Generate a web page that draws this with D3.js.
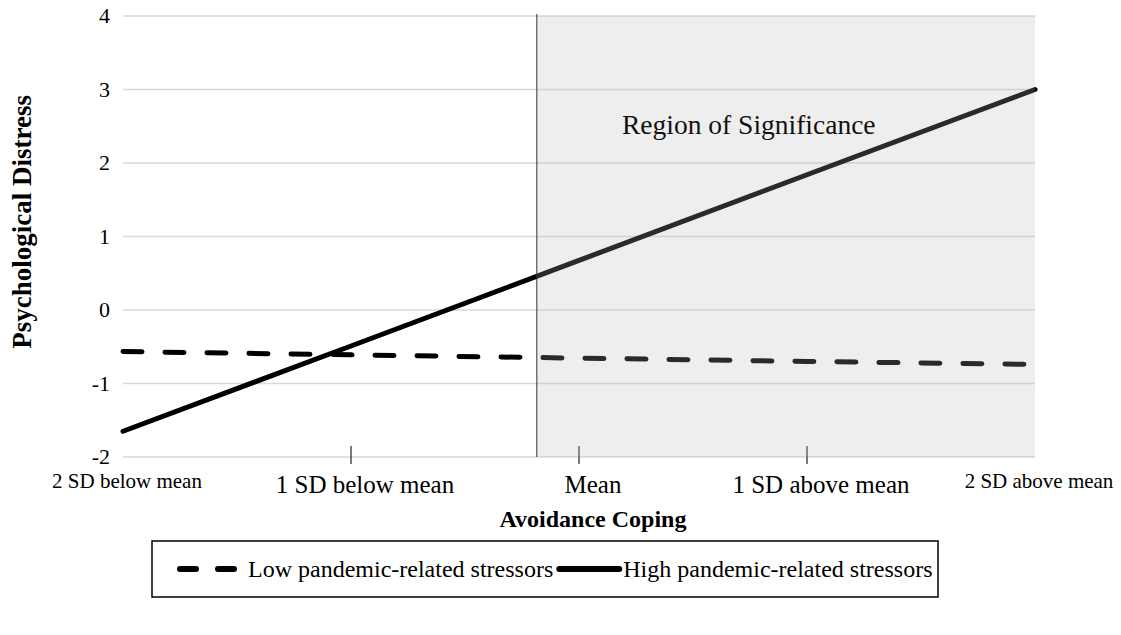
<!DOCTYPE html>
<html>
<head>
<meta charset="utf-8">
<script src="https://cdn.jsdelivr.net/npm/d3@7"></script>
<style>
  html, body { margin: 0; padding: 0; background: #fff; }
</style>
</head>
<body>
<svg id="chart" width="1121" height="635"></svg>
<script>
// Moderator levels of avoidance coping (in SD units from the mean)
const sdLevels = [-2, -1, 0, 1, 2];
const categoryLabels = ["2 SD below mean", "1 SD below mean", "Mean", "1 SD above mean", "2 SD above mean"];

// Predicted psychological distress for each stressor group
const lowStressors = [-0.565, -0.61, -0.655, -0.7, -0.74];
const highStressors = [-1.65, -0.49, 0.675, 1.84, 3.0];

const seriesNames = ["Low pandemic-related stressors", "High pandemic-related stressors"];
const yTicks = [-2, -1, 0, 1, 2, 3, 4];

// Johnson-Neyman boundary (SD units) where the effect becomes significant
const significanceStart = -0.185;
const regionLabel = "Region of Significance";

const FONT = '"Liberation Serif"';
const svg = d3.select("#chart");
const margin = { left: 123, right: 86, top: 16, bottom: 178 };
const W = 1121, H = 635;

const x = d3.scaleLinear().domain([-2, 2]).range([margin.left, W - margin.right]);
const y = d3.scaleLinear().domain([-2, 4]).range([H - margin.bottom, margin.top]);

// horizontal gridlines
svg.append("g")
  .selectAll("line")
  .data(yTicks)
  .join("line")
  .attr("x1", x(-2)).attr("x2", x(2))
  .attr("y1", d => y(d)).attr("y2", d => y(d))
  .attr("stroke", "#d9d9d9").attr("stroke-width", 1.3);

// y tick labels
svg.append("g")
  .selectAll("text")
  .data(yTicks)
  .join("text")
  .attr("x", 110).attr("y", d => y(d))
  .attr("dy", "0.32em")
  .attr("text-anchor", "end")
  .style("font-family", FONT)
  .style("font-size", "22px")
  .text(d => d);

// x tick marks on interior categories
svg.append("g")
  .selectAll("line")
  .data(sdLevels.slice(1, -1))
  .join("line")
  .attr("x1", d => x(d)).attr("x2", d => x(d))
  .attr("y1", y(-2) - 11).attr("y2", y(-2) + 7)
  .attr("stroke", "#222").attr("stroke-width", 1.2);

// x category labels (end labels set smaller and higher)
const isEnd = i => i === 0 || i === sdLevels.length - 1;
svg.append("g")
  .selectAll("text")
  .data(sdLevels)
  .join("text")
  .attr("x", (d, i) => x(d) + (isEnd(i) ? 4 : 14))
  .attr("y", (d, i) => isEnd(i) ? 488 : 493)
  .attr("text-anchor", "middle")
  .style("font-family", FONT)
  .style("font-size", (d, i) => isEnd(i) ? "21px" : "25px")
  .text((d, i) => categoryLabels[i]);

// series lines
const line = d3.line().x((d, i) => x(sdLevels[i])).y(d => y(d));

svg.append("path")
  .datum(lowStressors)
  .attr("d", line)
  .attr("fill", "none")
  .attr("stroke", "#000")
  .attr("stroke-width", 5)
  .attr("stroke-linecap", "round")
  .attr("stroke-dasharray", "19,23");

svg.append("path")
  .datum(highStressors)
  .attr("d", line)
  .attr("fill", "none")
  .attr("stroke", "#000")
  .attr("stroke-width", 5)
  .attr("stroke-linecap", "round");

// translucent region of significance over the lines
svg.append("rect")
  .attr("x", x(significanceStart))
  .attr("y", y(4))
  .attr("width", x(2) - x(significanceStart))
  .attr("height", y(-2) - y(4))
  .attr("fill", "rgb(183,183,183)")
  .attr("fill-opacity", 0.23);

svg.append("line")
  .attr("x1", x(significanceStart)).attr("x2", x(significanceStart))
  .attr("y1", y(4) - 2).attr("y2", y(-2))
  .attr("stroke", "#333").attr("stroke-width", 1);

svg.append("text")
  .attr("x", 622).attr("y", 134)
  .style("font-family", FONT)
  .style("font-size", "27.5px")
  .attr("fill", "#111")
  .text(regionLabel);

// axis titles
svg.append("text")
  .attr("x", x(0) + 14).attr("y", 527)
  .attr("text-anchor", "middle")
  .style("font-family", FONT)
  .style("font-size", "24px").style("font-weight", "bold")
  .text("Avoidance Coping");

svg.append("text")
  .attr("transform", `translate(31,${y(1.2)}) rotate(-90)`)
  .attr("text-anchor", "middle")
  .style("font-family", FONT)
  .style("font-size", "27px").style("font-weight", "bold")
  .text("Psychological Distress");

// legend
const legend = svg.append("g");
legend.append("rect")
  .attr("x", 152).attr("y", 541)
  .attr("width", 786).attr("height", 56)
  .attr("fill", "#fff")
  .attr("stroke", "#000").attr("stroke-width", 1.5);

const legendY = 569;
let cx = 180;
legend.append("line")
  .attr("x1", cx).attr("x2", cx + 60)
  .attr("y1", legendY).attr("y2", legendY)
  .attr("stroke", "#000").attr("stroke-width", 6)
  .attr("stroke-linecap", "round")
  .attr("stroke-dasharray", "16,22");
const t1 = legend.append("text")
  .attr("x", cx + 68).attr("y", legendY).attr("dy", "0.33em")
  .style("font-family", FONT)
  .style("font-size", "24px")
  .text(seriesNames[0]);
cx = cx + 68 + t1.node().getComputedTextLength() + 6;

legend.append("line")
  .attr("x1", cx).attr("x2", cx + 60)
  .attr("y1", legendY).attr("y2", legendY)
  .attr("stroke", "#000").attr("stroke-width", 6)
  .attr("stroke-linecap", "round");
legend.append("text")
  .attr("x", cx + 64).attr("y", legendY).attr("dy", "0.33em")
  .style("font-family", FONT)
  .style("font-size", "24px")
  .text(seriesNames[1]);
</script>
</body>
</html>
